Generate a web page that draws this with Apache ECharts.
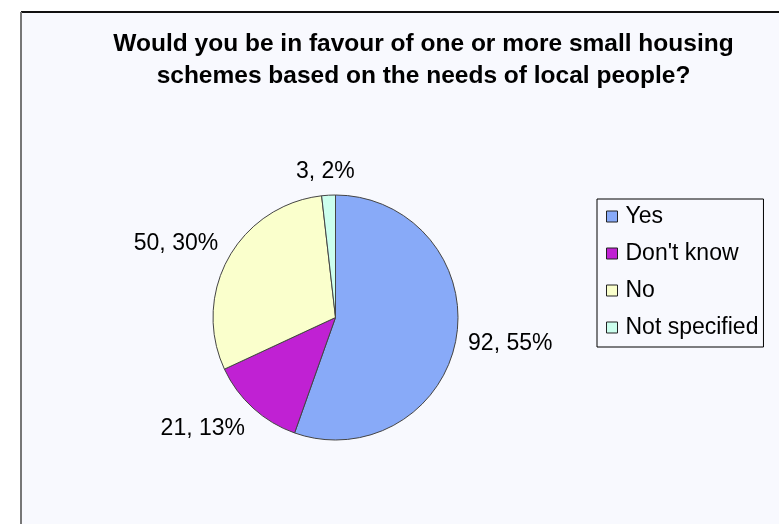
<!DOCTYPE html>
<html>
<head>
<meta charset="utf-8">
<style>
  html, body { margin: 0; padding: 0; background: #ffffff; }
  #chart { width: 779px; height: 524px; }
</style>
<script src="https://cdn.jsdelivr.net/npm/echarts@6/dist/echarts.min.js"></script>
</head>
<body>
<div id="chart"></div>
<script>
// Survey answers: small housing schemes for local people
const categories = ['Yes', "Don't know", 'No', 'Not specified'];
const counts = [92, 21, 50, 3];
const percents = [55, 13, 30, 2];
const sliceColors = ['#88AAF8', '#C021D3', '#FAFFCC', '#CCFFEE'];

const FONT = '"Liberation Sans", Arial, sans-serif';
const center = [335.5, 317.5];
const radius = 122.5;

// mid-angle of every slice, measured clockwise from 12 o'clock
const total = counts.reduce((a, b) => a + b, 0);
const midAngles = [];
let acc = 0;
counts.forEach(v => {
  midAngles.push((acc + v / 2) / total * 2 * Math.PI);
  acc += v;
});

const chart = echarts.init(document.getElementById('chart'), null, { renderer: 'canvas' });

chart.setOption({
  backgroundColor: '#ffffff',
  animation: false,
  graphic: [
    {
      type: 'rect',
      z: -10,
      shape: { x: 21, y: 12, width: 800, height: 600 },
      style: { fill: '#F8F9FE', stroke: null }
    },
    {
      type: 'line',
      z: -5,
      shape: { x1: 21, y1: 12, x2: 779, y2: 12 },
      style: { stroke: '#111111', lineWidth: 2 }
    },
    {
      type: 'line',
      z: -5,
      shape: { x1: 21, y1: 12, x2: 21, y2: 524 },
      style: { stroke: '#777777', lineWidth: 2 }
    }
  ],
  title: {
    text: 'Would you be in favour of one or more small housing\nschemes based on the needs of local people?',
    left: 418.5,
    textAlign: 'center',
    top: 23,
    textStyle: {
      fontFamily: FONT,
      fontSize: 24.5,
      fontWeight: 'bold',
      color: '#000000',
      lineHeight: 32
    }
  },
  legend: {
    orient: 'vertical',
    left: 597,
    top: 199,
    padding: [6, 5, 8, 9],
    itemWidth: 11,
    itemHeight: 11,
    itemGap: 14,
    icon: 'rect',
    borderColor: '#000000',
    borderWidth: 1,
    backgroundColor: '#F8F9FE',
    data: categories,
    itemStyle: { borderColor: '#222222', borderWidth: 1 },
    textStyle: {
      fontFamily: FONT,
      fontSize: 23,
      color: '#000000',
      padding: [0, 0, 0, 3]
    }
  },
  series: [
    {
      type: 'pie',
      center: center,
      radius: radius,
      startAngle: 90,
      clockwise: true,
      avoidLabelOverlap: false,
      itemStyle: { borderColor: '#444444', borderWidth: 1 },
      emphasis: { disabled: true },
      data: categories.map((name, i) => ({
        name: name,
        value: counts[i],
        itemStyle: { color: sliceColors[i] }
      })),
      label: {
        show: true,
        position: 'outside',
        fontFamily: FONT,
        fontSize: 23,
        color: '#000000',
        formatter: p => counts[p.dataIndex] + ', ' + percents[p.dataIndex] + '%'
      },
      labelLine: { show: false },
      // keep each label just clear of the rim, pushed away along its slice's mid-angle
      labelLayout: function (params) {
        const a = midAngles[params.dataIndex];
        const dx = Math.sin(a), dy = -Math.cos(a);
        const w = params.labelRect.width, h = params.labelRect.height;
        const r = radius + 12;
        const ox = Math.sign(dx) * w / 2 * Math.min(1, Math.abs(dx) * 1.5);
        const oy = Math.sign(dy) * h / 2 * Math.min(1, Math.abs(dy) * 1.5);
        return {
          x: center[0] + dx * r + ox,
          y: center[1] + dy * r + oy,
          align: 'center',
          verticalAlign: 'middle'
        };
      }
    }
  ]
});
</script>
</body>
</html>
